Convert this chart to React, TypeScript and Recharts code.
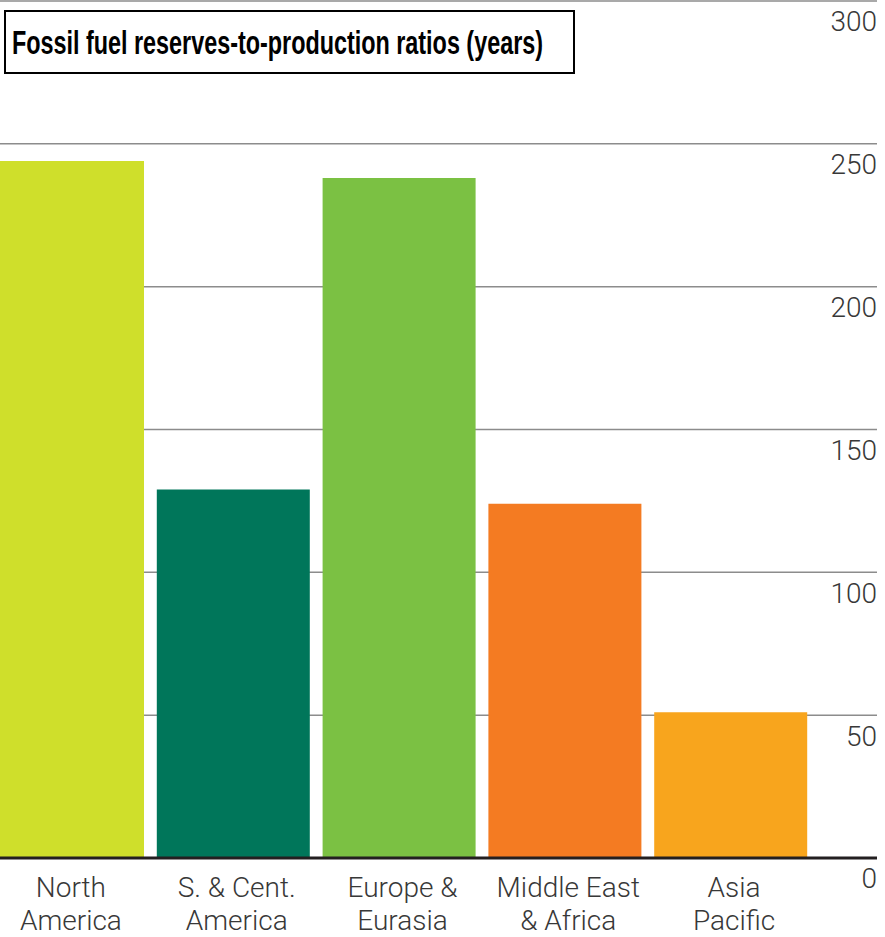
import React from 'react';
import { BarChart, Bar, XAxis, YAxis, CartesianGrid, Cell } from 'recharts';

const regions = ['North America', 'S. & Cent. America', 'Europe & Eurasia', 'Middle East & Africa', 'Asia Pacific'];
const regionLines = [
  ['North', 'America'],
  ['S. & Cent.', 'America'],
  ['Europe &', 'Eurasia'],
  ['Middle East', '& Africa'],
  ['Asia', 'Pacific'],
];
const ratios = [244, 129, 238, 124, 51];
const colors = ['#cfdf2b', '#00765a', '#7bc143', '#f47b22', '#f8a51d'];
const yTicks = [0, 50, 100, 150, 200, 250, 300];
const title = 'Fossil fuel reserves-to-production ratios (years)';

const data = regions.map((r, i) => ({ region: r, value: ratios[i] }));

const FONT = "Roboto, 'Liberation Sans', sans-serif";

const XTick = (props: any) => {
  const { x, y, index } = props;
  const lines = regionLines[index] || [];
  return (
    <g>
      {lines.map((l, i) => (
        <text
          key={i}
          x={x + 3}
          y={y + 24 + i * 33}
          textAnchor="middle"
          dominantBaseline="middle"
          fill="#383838"
          fontFamily={FONT}
          fontWeight={300}
          fontSize={28}
        >
          {l}
        </text>
      ))}
    </g>
  );
};

const YTick = (props: any) => {
  const { x, y, payload } = props;
  return (
    <text
      x={x}
      y={y + 23}
      textAnchor="end"
      dominantBaseline="middle"
      fill="#383838"
      fontFamily={FONT}
      fontWeight={300}
      fontSize={28}
    >
      {payload.value}
    </text>
  );
};

export default function App() {
  return (
    <div style={{ position: 'absolute', left: 0, top: 0, width: 885, height: 937, overflow: 'hidden', background: '#fff' }}>
      <div style={{ position: 'absolute', left: -15, top: 0 }}>
        <BarChart
          width={901}
          height={937}
          data={data}
          margin={{ top: 1, right: 8, left: 0, bottom: 0 }}
          barSize={153}
        >
          <CartesianGrid horizontal vertical={false} stroke="#8c8c8c" strokeWidth={1.5} />
          <XAxis
            dataKey="region"
            height={79}
            padding={{ left: 0, right: 63 }}
            axisLine={{ stroke: '#231f20', strokeWidth: 3 }}
            tickLine={false}
            interval={0}
            tick={<XTick />}
          />
          <YAxis
            orientation="right"
            width={1}
            domain={[0, 300]}
            ticks={yTicks}
            interval={0}
            axisLine={false}
            tickLine={false}
            tickSize={0}
            tickMargin={0}
            tick={<YTick />}
          />
          <Bar dataKey="value" isAnimationActive={false}>
            {data.map((d, i) => (
              <Cell key={d.region} fill={colors[i]} />
            ))}
          </Bar>
        </BarChart>
      </div>
      <svg width={885} height={90} style={{ position: 'absolute', left: 0, top: 0 }}>
        <rect x={5} y={11} width={569} height={62} fill="#fff" stroke="#000" strokeWidth={2} />
        <text
          x={12}
          y={54}
          fontFamily="'Liberation Sans Narrow', 'Liberation Sans', 'DejaVu Sans Condensed', sans-serif"
          fontWeight={700}
          fontSize={34}
          textLength={531}
          lengthAdjust="spacingAndGlyphs"
          fill="#000"
        >
          {title}
        </text>
      </svg>
    </div>
  );
}
